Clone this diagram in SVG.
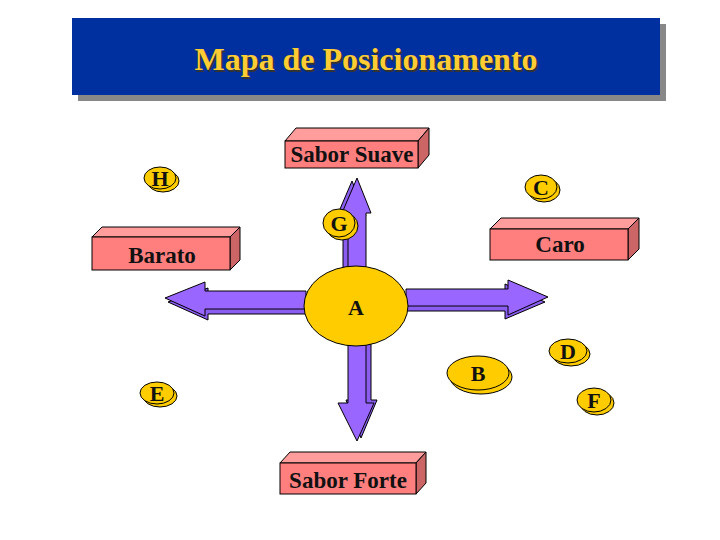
<svg xmlns="http://www.w3.org/2000/svg" width="720" height="540" viewBox="0 0 720 540">
<style>
.lbl{font-family:"Liberation Serif","Times New Roman",serif;font-weight:bold;font-size:23px;fill:#111;text-anchor:middle}
.cl{font-family:"Liberation Serif","Times New Roman",serif;font-weight:bold;font-size:22px;fill:#111;text-anchor:middle}
.coin{fill:#FFCC00;stroke:#000;stroke-width:1}
.front{fill:#FF7F7F;stroke:#000;stroke-width:1}
.top{fill:#FF9C9C;stroke:#000;stroke-width:1}
.side{fill:#CC6666;stroke:#000;stroke-width:1}
.arr{fill:#9966FF;stroke:#000;stroke-width:1;stroke-linejoin:miter}
.arrb{fill:#8A5CF0;stroke:#000;stroke-width:1}
.ttl{font-family:"Liberation Serif","Times New Roman",serif;font-weight:bold;font-size:32px;text-anchor:middle}
</style>
<rect width="720" height="540" fill="#fff"/>
<g id="title">
<rect x="78" y="24" width="588" height="77" fill="#888"/>
<rect x="72" y="18" width="588" height="77" fill="#0030A0"/>
<text class="ttl" x="367.5" y="71.5" fill="#333">Mapa de Posicionamento</text>
<text class="ttl" x="366" y="70" fill="#FFCC33">Mapa de Posicionamento</text>
</g>
<g id="connectors">
<g id="arrow-up">
<path class="arrb" d="M343,268 L343,216 L337,216 L352,181 L366,216 L361,216 L361,268 Z"/>
<path class="arr" d="M348,268 L348,213 L342,213 L357,178 L371,213 L366,213 L366,268 Z"/>
</g>
<g id="arrow-down">
<path class="arrb" d="M353,344 L353,400 L346,400 L361,438 L377,400 L371,400 L371,344 Z"/>
<path class="arr" d="M348,344 L348,403 L338,403 L357,441 L374,403 L366,403 L366,344 Z"/>
</g>
<g id="arrow-left">
<path class="arrb" d="M306,297 L208,297 L208,288 L168,302 L208,320 L208,314 L306,314 Z"/>
<path class="arr" d="M306,291 L205,291 L205,282 L165,298 L205,316 L205,309 L306,309 Z"/>
</g>
<g id="arrow-right">
<path class="arrb" d="M406,294 L505,294 L505,284 L545,302 L505,319 L505,311 L406,311 Z"/>
<path class="arr" d="M406,289 L508,289 L508,280 L548,297 L508,315 L508,306 L406,306 Z"/>
</g>
</g>
<g id="box-sabor-suave">
<polygon class="top" points="285,141 296,128 429,128 418,141"/>
<polygon class="side" points="418,141 429,128 429,155 418,168"/>
<rect class="front" x="285" y="141" width="133" height="27"/>
<text class="lbl" x="352" y="162">Sabor Suave</text>
</g>
<g id="box-barato">
<polygon class="top" points="92,237 102,227 240,227 230,237"/>
<polygon class="side" points="230,237 240,227 240,260 230,270"/>
<rect class="front" x="92" y="237" width="138" height="33"/>
<text class="lbl" x="162" y="263">Barato</text>
</g>
<g id="box-caro">
<polygon class="top" points="490,229 501,218 639,218 628,229"/>
<polygon class="side" points="628,229 639,218 639,249 628,260"/>
<rect class="front" x="490" y="229" width="138" height="31"/>
<text class="lbl" x="560" y="252">Caro</text>
</g>
<g id="box-sabor-forte">
<polygon class="top" points="280,463 290,452 426,452 416,463"/>
<polygon class="side" points="416,463 426,452 426,483 416,494"/>
<rect class="front" x="280" y="463" width="136" height="31"/>
<text class="lbl" x="348" y="488">Sabor Forte</text>
</g>
<g id="coin-A">
<ellipse class="coin" cx="356" cy="306" rx="52" ry="40"/>
<text class="cl" x="356" y="315">A</text>
</g>
<g id="coin-H">
<ellipse class="coin" cx="163" cy="181" rx="16" ry="11"/>
<ellipse class="coin" cx="160" cy="178" rx="16" ry="11"/>
<text class="cl" x="160" y="186">H</text>
</g>
<g id="coin-C">
<ellipse class="coin" cx="544" cy="190" rx="16" ry="12"/>
<ellipse class="coin" cx="541" cy="187" rx="16" ry="12"/>
<text class="cl" x="541" y="195">C</text>
</g>
<g id="coin-G">
<ellipse class="coin" cx="342" cy="226" rx="16" ry="14"/>
<ellipse class="coin" cx="339" cy="223" rx="16" ry="14"/>
<text class="cl" x="339" y="231">G</text>
</g>
<g id="coin-B">
<ellipse class="coin" cx="481" cy="377" rx="31" ry="17"/>
<ellipse class="coin" cx="478" cy="373" rx="31" ry="17"/>
<text class="cl" x="478" y="381">B</text>
</g>
<g id="coin-D">
<ellipse class="coin" cx="571" cy="354" rx="19" ry="12"/>
<ellipse class="coin" cx="568" cy="351" rx="19" ry="12"/>
<text class="cl" x="568" y="359">D</text>
</g>
<g id="coin-E">
<ellipse class="coin" cx="160" cy="396" rx="17" ry="11"/>
<ellipse class="coin" cx="157" cy="393" rx="17" ry="11"/>
<text class="cl" x="157" y="401">E</text>
</g>
<g id="coin-F">
<ellipse class="coin" cx="597" cy="403" rx="17" ry="12"/>
<ellipse class="coin" cx="594" cy="400" rx="17" ry="12"/>
<text class="cl" x="594" y="408">F</text>
</g>
</svg>
